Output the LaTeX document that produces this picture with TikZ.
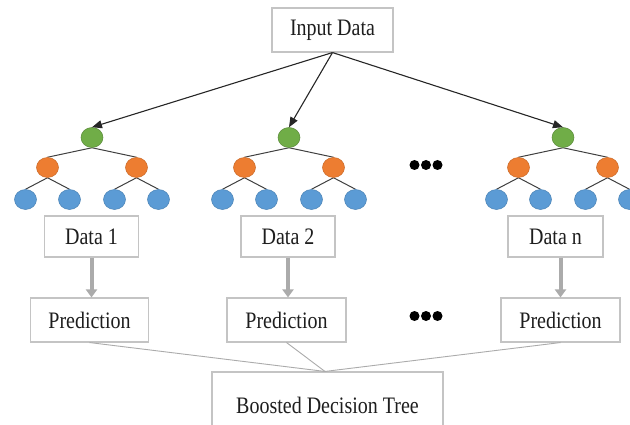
\documentclass[tikz,border=0pt]{standalone}
\usepackage{fontspec}
\setmainfont{Liberation Serif}
\usepackage{graphicx}
\usetikzlibrary{arrows.meta,shapes.geometric,backgrounds}
\definecolor{tgreen}{HTML}{70AD47}
\definecolor{torange}{HTML}{ED7D31}
\definecolor{tblue}{HTML}{5B9BD5}
\definecolor{boxgray}{HTML}{C4C4C4}
\definecolor{linegray}{HTML}{ABABAB}
\definecolor{treeline}{HTML}{404040}
\definecolor{textc}{HTML}{1E1E1E}
\newcommand\tx[1]{\scalebox{1}[1.18]{#1}}
\tikzset{
  box/.style={draw=boxgray, line width=1.1pt, fill=white, inner sep=0pt,
              font=\fontsize{20}{24}\selectfont, text=textc},
  tnode/.style={ellipse, inner sep=0pt, minimum width=22pt, minimum height=20pt, line width=0.5pt},
  gnode/.style={tnode, fill=tgreen, draw=tgreen!80!black},
  onode/.style={tnode, fill=torange, draw=torange!85!black},
  bnode/.style={tnode, fill=tblue, draw=tblue!85!black},
  tedge/.style={draw=treeline, line width=1pt},
  inarrow/.style={draw=black!85, line width=1.1pt, -{Triangle[width=8pt,length=10pt]}},
  grayarrow/.style={draw=linegray, line width=4pt, -{Triangle[width=11pt,length=8pt]}},
  joinline/.style={draw=linegray, line width=0.9pt},
  dot/.style={fill=black}
}
\begin{document}
\begin{tikzpicture}[x=1pt,y=-1pt]
\useasboundingbox (0,0) rectangle (630,425);
\clip (0,0) rectangle (630,425);

% input
\node[box, minimum width=121pt, minimum height=44pt] (in) at (332.5,30) {\tx{Input Data}};

% trees
\foreach \i/\x in {1/92,2/289,3/563}{
  \node[gnode] (g\i) at (\x,137.5) {};
  \node[onode] (oa\i) at ({\x-44.5},167.5) {};
  \node[onode] (ob\i) at ({\x+44.5},167.5) {};
  \node[bnode] (ba\i) at ({\x-66.5},199.5) {};
  \node[bnode] (bb\i) at ({\x-22.5},199.5) {};
  \node[bnode] (bc\i) at ({\x+22.5},199.5) {};
  \node[bnode] (bd\i) at ({\x+66.5},199.5) {};
  \begin{scope}[on background layer]
    \draw[tedge] (g\i.south) -- (oa\i.north);
    \draw[tedge] (g\i.south) -- (ob\i.north);
    \draw[tedge] (oa\i.south) -- (ba\i.north);
    \draw[tedge] (oa\i.south) -- (bb\i.north);
    \draw[tedge] (ob\i.south) -- (bc\i.north);
    \draw[tedge] (ob\i.south) -- (bd\i.north);
  \end{scope}
}

% arrows from input
\draw[inarrow] (in.south) -- (g1.north);
\draw[inarrow] (in.south) -- (g2.north);
\draw[inarrow] (in.south) -- (g3.north);

% data boxes
\node[box, minimum width=94pt, minimum height=41pt] (d1) at (91.5,236.5) {\tx{Data 1}};
\node[box, minimum width=94pt, minimum height=41pt] (d2) at (288,236.5) {\tx{Data 2}};
\node[box, minimum width=95pt, minimum height=41pt] (d3) at (555.5,236.5) {\tx{Data n}};

% prediction boxes
\node[box, minimum width=118pt, minimum height=44pt] (p1) at (89.5,320) {\tx{Prediction}};
\node[box, minimum width=119pt, minimum height=44pt] (p2) at (286.5,320) {\tx{Prediction}};
\node[box, minimum width=119pt, minimum height=44pt] (p3) at (560.5,320) {\tx{Prediction}};

% gray arrows
\draw[grayarrow] (d1.south) -- (d1.south |- p1.north);
\draw[grayarrow] (d2.south) -- (d2.south |- p2.north);
\draw[grayarrow] (p3.north |- d3.south) -- (p3.north);

% boosted
\node[box, minimum width=231pt, minimum height=66pt] (bt) at (327.5,405) {\tx{Boosted Decision Tree}};
\coordinate (m) at ([xshift=-2.5pt]bt.north);
\draw[joinline] (p1.south) -- (m);
\draw[joinline] (p2.south) -- (m);
\draw[joinline] (p3.south) -- (m);

% ellipsis dots
\foreach \y in {165,316}{
  \fill[dot] (414.5,\y) circle (5pt);
  \fill[dot] (426,\y) circle (5pt);
  \fill[dot] (437.5,\y) circle (5pt);
}
\end{tikzpicture}
\end{document}
